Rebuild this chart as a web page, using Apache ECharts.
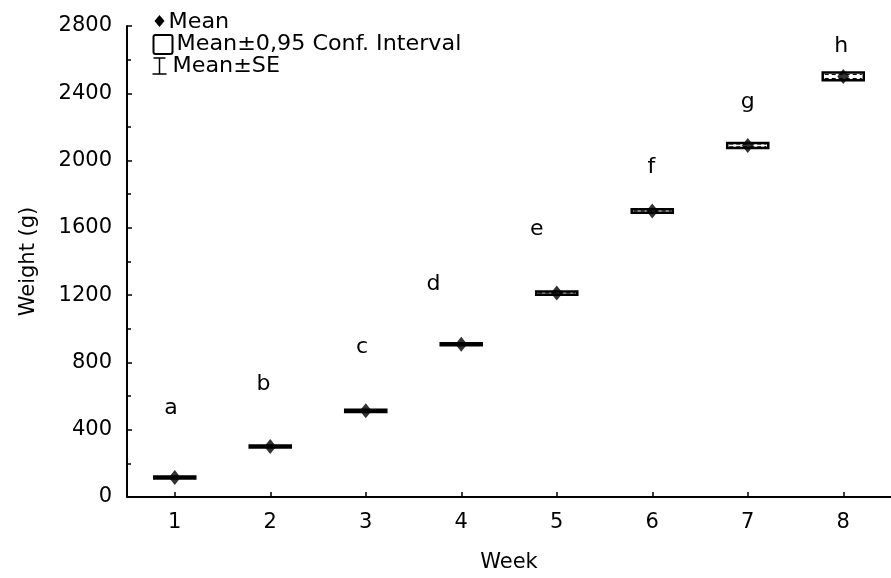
<!DOCTYPE html>
<html>
<head>
<meta charset="utf-8">
<script src="https://cdn.jsdelivr.net/npm/echarts@6/dist/echarts.min.js"></script>
<style>
  html, body { margin: 0; padding: 0; background: #fff; }
  #chart { width: 891px; height: 578px; }
</style>
</head>
<body>
<div id="chart"></div>
<script>
// ---- data ----
var weeks = [1, 2, 3, 4, 5, 6, 7, 8];
var means = [116, 300, 512, 908, 1212, 1700, 2090, 2500];
var ciHalf = [6, 6, 6, 6, 10, 10, 15, 23];      // ±0.95 conf. interval (g)
var seHalf = [3, 3, 3, 3, 5, 5, 8, 12];         // ±SE (g)
var groupLetters = ['a', 'b', 'c', 'd', 'e', 'f', 'g', 'h'];
var letterX = [0.96, 1.93, 2.96, 3.71, 4.79, 5.99, 7.0, 7.98];
var letterY = [530, 672, 893, 1262, 1590, 1960, 2345, 2680];

var FONT = '"DejaVu Sans", "Liberation Sans", Arial, sans-serif';
var BOX_HALF = 0.215; // half width of CI box in week units

var boxData = weeks.map(function (w, i) {
  return [w, means[i], means[i] - ciHalf[i], means[i] + ciHalf[i], means[i] - seHalf[i], means[i] + seHalf[i]];
});
var meanData = weeks.map(function (w, i) { return [w, means[i]]; });
var letterData = weeks.map(function (w, i) { return [letterX[i], letterY[i], groupLetters[i]]; });

var chart = echarts.init(document.getElementById('chart'), null, { renderer: 'canvas' });

chart.setOption({
  backgroundColor: '#ffffff',
  animation: false,
  grid: { left: 127, right: -10, top: 26, bottom: 75, containLabel: false },
  xAxis: {
    type: 'value',
    min: 0.5,
    max: 8.5,
    name: 'Week',
    nameLocation: 'middle',
    nameGap: 55,
    nameTextStyle: { fontFamily: FONT, fontSize: 21, color: '#000' },
    axisLine: { show: true, onZero: false, lineStyle: { color: '#000', width: 2 } },
    axisTick: { show: true, inside: true, length: 5, lineStyle: { color: '#000', width: 1.5 }, customValues: weeks },
    axisLabel: { fontFamily: FONT, fontSize: 21, color: '#000', margin: 15, customValues: weeks },
    splitLine: { show: false }
  },
  yAxis: {
    type: 'value',
    min: 0,
    max: 2800,
    interval: 400,
    name: 'Weight (g)',
    nameLocation: 'middle',
    nameGap: 88,
    nameTextStyle: { fontFamily: FONT, fontSize: 21, color: '#000' },
    axisLine: { show: true, lineStyle: { color: '#000', width: 2 } },
    axisTick: { show: true, inside: true, length: 5, lineStyle: { color: '#000', width: 1.5 } },
    minorTick: { show: true, splitNumber: 2, length: 4, lineStyle: { color: '#000', width: 1.5 } },
    axisLabel: {
      fontFamily: FONT, fontSize: 21, color: '#000', margin: 15,
      formatter: function (v) { return String(v); }
    },
    splitLine: { show: false },
    minorSplitLine: { show: false }
  },
  series: [
    {
      name: 'Mean±0,95 Conf. Interval',
      type: 'custom',
      z: 2,
      data: boxData,
      renderItem: function (params, api) {
        var x = api.value(0);
        var lo = api.value(2), hi = api.value(3);
        var seLo = api.value(4), seHi = api.value(5);
        var tl = api.coord([x - BOX_HALF, hi]);
        var br = api.coord([x + BOX_HALF, lo]);
        var sTop = api.coord([x, seHi]);
        var sBot = api.coord([x, seLo]);
        return {
          type: 'group',
          children: [
            {
              type: 'rect',
              shape: { x: tl[0], y: tl[1], width: br[0] - tl[0], height: br[1] - tl[1] },
              style: { fill: '#fff', stroke: '#000', lineWidth: 2.5 }
            },
            {
              type: 'line',
              shape: { x1: tl[0] + 2, y1: sTop[1], x2: br[0] - 2, y2: sTop[1] },
              style: { stroke: '#000', lineWidth: 1, lineDash: [4, 3] }
            },
            {
              type: 'line',
              shape: { x1: tl[0] + 2, y1: sBot[1], x2: br[0] - 2, y2: sBot[1] },
              style: { stroke: '#000', lineWidth: 1, lineDash: [4, 3] }
            }
          ]
        };
      }
    },
    {
      name: 'Mean',
      type: 'scatter',
      z: 3,
      symbol: 'diamond',
      symbolSize: [12, 15],
      itemStyle: { color: '#000' },
      data: meanData
    },
    {
      name: 'letters',
      type: 'custom',
      z: 4,
      silent: true,
      data: letterData,
      renderItem: function (params, api) {
        var p = api.coord([api.value(0), api.value(1)]);
        return {
          type: 'text',
          x: p[0],
          y: p[1],
          style: {
            text: groupLetters[params.dataIndex],
            font: '22px ' + FONT,
            fill: '#000',
            align: 'center',
            verticalAlign: 'middle'
          }
        };
      }
    }
  ],
  graphic: [
    {
      type: 'group',
      left: 150,
      top: 12,
      children: [
        { type: 'polygon', shape: { points: [[8, 3], [13, 9], [8, 15], [3, 9]] }, style: { fill: '#000' } },
        { type: 'text', x: 17, y: 0, scaleX: 1.06, style: { text: 'Mean', font: '21px ' + FONT, fill: '#000' } },
        { type: 'rect', shape: { x: 2, y: 23, width: 19, height: 19, r: 2 }, style: { fill: '#fff', stroke: '#000', lineWidth: 2 } },
        { type: 'text', x: 25, y: 22, scaleX: 1.06, style: { text: 'Mean±0,95 Conf. Interval', font: '21px ' + FONT, fill: '#000' } },
        { type: 'polyline', shape: { points: [[2, 46], [14, 46]] }, style: { stroke: '#000', lineWidth: 1.5 } },
        { type: 'polyline', shape: { points: [[8, 46], [8, 62]] }, style: { stroke: '#000', lineWidth: 1.5 } },
        { type: 'polyline', shape: { points: [[1, 62], [15, 62]] }, style: { stroke: '#000', lineWidth: 1.5 } },
        { type: 'text', x: 21, y: 44, scaleX: 1.06, style: { text: 'Mean±SE', font: '21px ' + FONT, fill: '#000' } }
      ]
    }
  ]
});
</script>
</body>
</html>
